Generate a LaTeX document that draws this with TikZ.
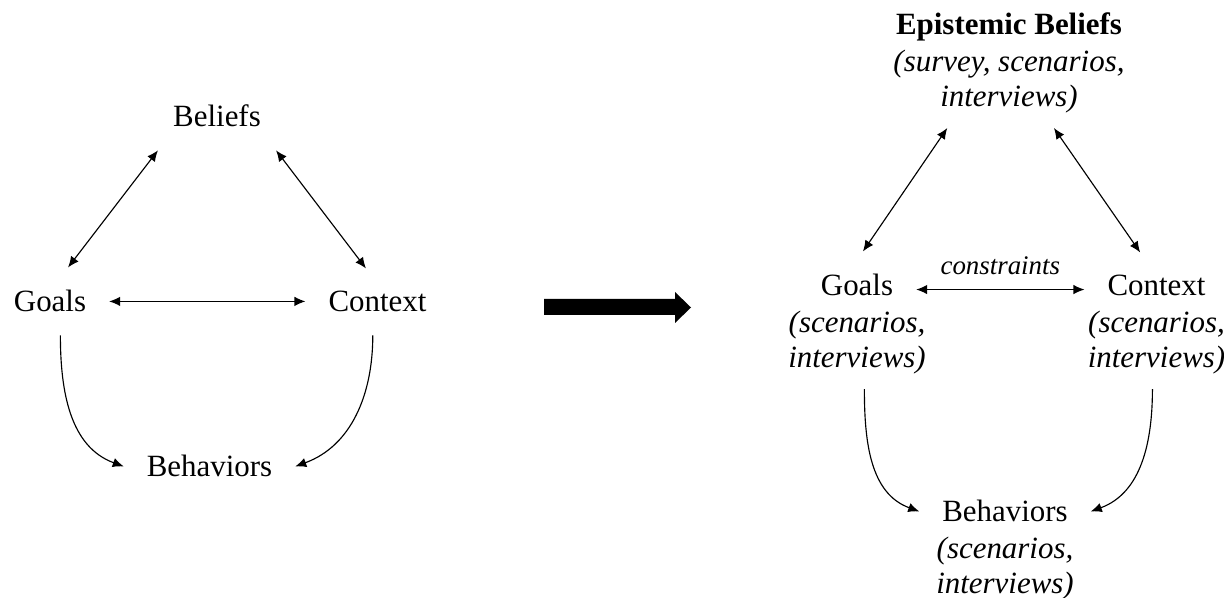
\documentclass[tikz,border=0pt]{standalone}
\usepackage{fontspec}
\setmainfont{Liberation Serif}
\usetikzlibrary{arrows.meta}

\begin{document}
\begin{tikzpicture}[>={Latex[length=2.2mm,width=1.9mm]}, line width=0.65pt,
        concept/.style={font=\fontsize{17.6}{20.4}\selectfont, inner sep=0.45cm, anchor=base},
        method/.style={font=\fontsize{17.6}{20.4}\selectfont\itshape, align=center, inner sep=0.28cm, anchor=north}]
    \useasboundingbox (0,0) rectangle (24.48,11.96);
    % first model
    \node[concept] (lbel) at (4.34,9.42) {Beliefs};
    \node[concept] (lgoal) at (1.00,5.72) {Goals};
    \node[concept] (lctx) at (7.55,5.72) {Context};
    \node[concept] (lbeh) at (4.19,2.42) {Behaviors};
    \draw[<->] (lbel.210) -- (lgoal.62);
    \draw[<->] (lbel.330) -- (lctx.109);
    \draw[<->] (lgoal.east) -- (lgoal.east -| lctx.west);
    \draw[->] (lgoal.-73) to[out=-90, in=160] (lbeh.west);
    \draw[->] (lctx.-98) to[out=-90, in=20] (lbeh.east);
    % big arrow
    \fill (10.88,5.98) -- (13.50,5.98) -- (13.50,6.12) -- (13.82,5.81) -- (13.50,5.50) -- (13.50,5.66) -- (10.88,5.66) -- cycle;
    % second model
    \node[concept, font=\fontsize{17.6}{20.4}\selectfont\bfseries] (rbel) at (20.18,11.26) {Epistemic Beliefs};
    \node[method] (rbelm) at (rbel.base) {(survey, scenarios,\\interviews)};
    \node[concept] (rgoal) at (17.14,6.04) {Goals};
    \node[method] (rgoalm) at (rgoal.base) {(scenarios,\\interviews)};
    \node[concept] (rctx) at (23.13,6.04) {Context};
    \node[method] (rctxm) at (rctx.base) {(scenarios,\\interviews)};
    \node[concept] (rbeh) at (20.10,1.52) {Behaviors};
    \node[method] (rbehm) at (rbeh.base) {(scenarios,\\interviews)};
    \draw[<->] (rbelm.217) -- (rgoal.80);
    \draw[<->] (rbelm.-46) -- (rctx.116);
    \draw[<->] (rgoal.-4) -- node[above, inner sep=0.28cm, font=\fontsize{15.3}{18}\selectfont\itshape] (cons) {constraints} (rgoal.-4 -| rctx.west);
    \draw[->] (rgoalm.-81) to[out=-90, in=160] (rbeh.west);
    \draw[->] (rctxm.-95) to[out=-90, in=20] (rbeh.east);
\end{tikzpicture}
\end{document}
